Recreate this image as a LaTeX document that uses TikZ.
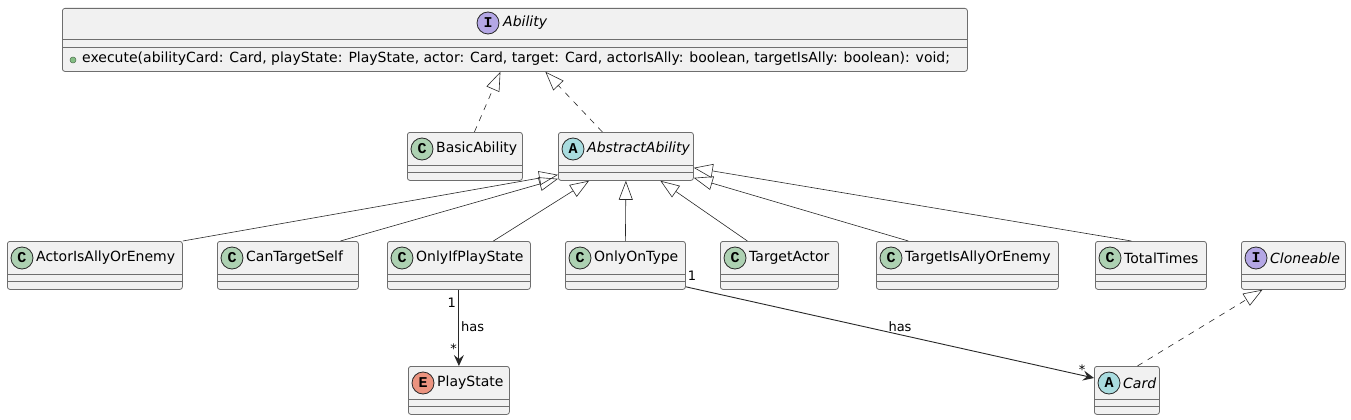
\documentclass[tikz,border=0pt]{standalone}
\usepackage{fontspec}
\setmainfont{DejaVu Sans}
\newfontfamily\circfont{Liberation Mono}
\usetikzlibrary{arrows.meta}
\definecolor{boxfill}{HTML}{F1F1F1}
\definecolor{boxline}{HTML}{6E6E6E}
\definecolor{edgeline}{HTML}{282828}
\definecolor{ccol}{HTML}{ADD1B2}
\definecolor{acol}{HTML}{A9DCDF}
\definecolor{icol}{HTML}{B4A7E5}
\definecolor{ecol}{HTML}{EB937F}
\definecolor{dotcol}{HTML}{84BE84}
\tikzset{
  clsbox/.style={draw=boxline, line width=0.8pt, fill=boxfill, rounded corners=2.5pt, inner sep=0pt, anchor=north west},
  sepline/.style={draw=boxline, line width=0.8pt},
  circ/.style={circle, draw=edgeline, line width=0.8pt, minimum size=22pt, inner sep=0pt, font=\circfont\bfseries\fontsize{15}{15}\selectfont},
  clsname/.style={anchor=west, inner sep=0pt, font=\fontsize{14}{16}\selectfont},
  inherit/.style={draw=edgeline, line width=0.6pt, -{Triangle[open, length=19pt, width=14pt]}},
  realize/.style={inherit, dash pattern=on 6pt off 6pt},
  assoc/.style={draw=edgeline, line width=0.9pt, -{Stealth[length=11pt, width=10pt, inset=4pt]}},
  lbl/.style={inner sep=0pt, font=\fontsize{13}{15}\selectfont},
}
% #1 name, #2 left, #3 right, #4 top, #5 letter, #6 colour, #7 label
\newcommand\umlcls[7]{%
  \node[clsbox, minimum width=#3-#2, minimum height=48] (#1) at (#2,#4) {};
  \draw[sepline] ([yshift=-33pt]#1.north west) -- ([yshift=-33pt]#1.north east);
  \draw[sepline] ([yshift=-40.5pt]#1.north west) -- ([yshift=-40.5pt]#1.north east);
  \node[circ, fill=#6] (#1c) at ([xshift=15pt,yshift=-17pt]#1.north west) {#5};
  \node[clsname] (#1t) at ([xshift=29pt,yshift=-17pt]#1.north west) {#7};
}
\begin{document}
\begin{tikzpicture}[x=1pt,y=-1pt]
\useasboundingbox[fill=white] (0,0) rectangle (1351,420);

% Ability interface
\node[clsbox, minimum width=905, minimum height=63] (ability) at (62,8) {};
\draw[sepline] ([yshift=-31pt]ability.north west) -- ([yshift=-31pt]ability.north east);
\draw[sepline] ([yshift=-39pt]ability.north west) -- ([yshift=-39pt]ability.north east);
\node[circ, fill=icol] (abilityc) at (488,23) {I};
\node[clsname] (abilityt) at (503,23) {\itshape Ability};
\node[circle, fill=dotcol, draw=dotcol!60!black, line width=0.5pt, minimum size=6pt, inner sep=0pt] (abilitydot) at (73,60) {};
\node[clsname] (abilitym) at (82,59) {execute(abilityCard: Card, playState: PlayState, actor: Card, target: Card, actorIsAlly: boolean, targetIsAlly: boolean): void;};

% second row
\umlcls{basic}{407}{522}{132}{C}{ccol}{BasicAbility}
\umlcls{abs}{558}{693}{132}{A}{acol}{\itshape AbstractAbility}

% third row
\umlcls{actor}{7}{182}{241}{C}{ccol}{ActorIsAllyOrEnemy}
\umlcls{cts}{217}{358}{241}{C}{ccol}{CanTargetSelf}
\umlcls{oips}{387}{530}{241}{C}{ccol}{OnlyIfPlayState}
\umlcls{oot}{565}{685}{241}{C}{ccol}{OnlyOnType}
\umlcls{ta}{720}{838}{241}{C}{ccol}{TargetActor}
\umlcls{tiae}{876}{1058}{241}{C}{ccol}{TargetIsAllyOrEnemy}
\umlcls{tt}{1095}{1206}{241}{C}{ccol}{TotalTimes}
\umlcls{clo}{1241}{1345}{241}{I}{icol}{\itshape Cloneable}

% fourth row
\umlcls{ps}{408}{509}{366}{E}{ecol}{PlayState}
\umlcls{card}{1094}{1159}{366}{A}{acol}{\itshape Card}

% realizations
\draw[realize] ([xshift=9.5pt]basic.north) -- ([xshift=-14.5pt]ability.south);
\draw[realize] ([xshift=-23.5pt]abs.north) -- ([xshift=30.5pt]ability.south);
\draw[realize] ([xshift=10.5pt]card.north) -- ([xshift=-31pt]clo.south);

% generalizations
\draw[inherit] (actor.north east) -- ([yshift=6pt]abs.south west);
\draw[inherit] ([xshift=52.5pt]cts.north) -- ([yshift=2pt]abs.south west);
\draw[inherit] ([xshift=34.5pt]oips.north) -- ([xshift=31pt]abs.south west);
\draw[inherit] (oot.north) -- (abs.south);
\draw[inherit] ([xshift=-32pt]ta.north) -- ([xshift=34.5pt]abs.south);
\draw[inherit] ([xshift=-59pt]tiae.north) -- ([yshift=3pt]abs.south east);
\draw[inherit] ([xshift=-19.5pt]tt.north) -- ([yshift=13pt]abs.south east);

% associations
\draw[assoc] (oips.south) -- (ps.north);
\node[lbl, anchor=east] (l1a) at (456,303) {1};
\node[lbl, anchor=west] (l1b) at (461,327) {has};
\node[lbl, anchor=east] (l1c) at (457,349) {*};
\draw[assoc] ([yshift=3pt]oot.south east) -- ([yshift=-12pt]card.north west);
\node[lbl] (l2a) at (692,276) {1};
\node[lbl] (l2b) at (900,327) {has};
\node[lbl] (l2c) at (1082,370) {*};
\end{tikzpicture}
\end{document}
